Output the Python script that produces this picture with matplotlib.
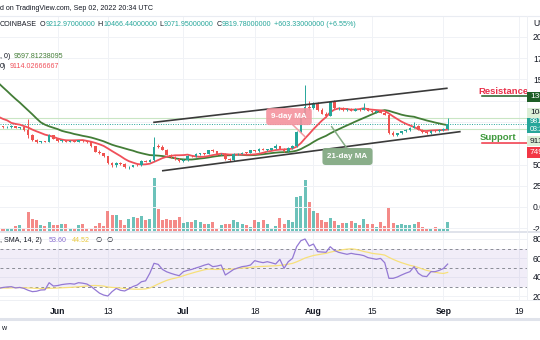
import numpy as np
import pandas as pd
import matplotlib
matplotlib.use('Agg')
import matplotlib.pyplot as plt
from matplotlib import font_manager
from matplotlib.patches import Rectangle
from matplotlib.lines import Line2D

# ---------------- data ----------------
dates = pd.date_range('2022-05-18', '2022-09-02', freq='D')
opens = [9200, 9480, 9380, 9450, 9520, 9300, 9400, 9050, 8450, 7900,
         7650, 7700, 7650, 8450, 8050, 7750, 7820, 7700, 7800, 7700,
         7850, 7750, 7600, 7150, 6500, 6350, 5950, 5150, 4900, 5200,
         5100, 4650, 4750, 4950, 4900, 5400, 5350, 5550, 7100, 7050,
         6700, 6150, 5850, 5600, 5450, 5500, 6050, 5950, 6250, 6300,
         6250, 6650, 6550, 6200, 6250, 5600, 5500, 6200, 6250, 6400,
         6350, 6650, 6550, 6850, 6700, 6750, 6900, 7150, 6850, 6550,
         6950, 7150, 8850, 10450, 11800, 11650, 12150, 11400, 11000, 10700,
         12350, 11600, 11700, 11400, 11550, 11350, 11550, 11450, 11600, 11300,
         11150, 11300, 11100, 10850, 8700, 8450, 8650, 8900, 9100, 9350,
         9500, 9100, 8800, 8650, 8950, 8900, 9050, 9212.97]
highs = [9550, 9520, 9500, 9600, 9560, 9450, 9450, 10350, 8600, 7950,
         7800, 7780, 8550, 8500, 8150, 7900, 7900, 7850, 7850, 7900,
         7900, 7800, 7650, 7200, 6700, 6400, 6050, 5250, 5300, 5350,
         5150, 4800, 5000, 5050, 5500, 5500, 5650, 8200, 7400, 7250,
         6800, 6250, 5950, 5750, 5600, 6150, 6150, 6350, 6400, 6400,
         6750, 6800, 6600, 6350, 6300, 5750, 6300, 6350, 6500, 6450,
         6750, 6750, 6950, 6900, 6850, 7000, 7400, 7200, 6950, 7050,
         7300, 9000, 10700, 14350, 12500, 12300, 12300, 11600, 11150, 12500,
         12550, 11800, 11800, 11650, 11650, 11650, 11700, 12200, 11700, 11450,
         11400, 11400, 11250, 10950, 8900, 8750, 8950, 9200, 9450, 10050,
         9600, 9150, 8900, 9050, 9050, 9150, 9300, 10466.44]
lows = [9100, 9300, 9300, 9350, 9250, 9200, 9000, 8100, 7800, 7550,
        7550, 7600, 7600, 8000, 7700, 7650, 7650, 7600, 7650, 7650,
        7700, 7550, 7050, 6450, 6250, 5850, 5050, 4750, 4700, 4950,
        4550, 4450, 4650, 4800, 4850, 5250, 5300, 5450, 6950, 6650,
        6100, 5800, 5550, 5350, 5350, 5450, 5900, 5900, 6150, 6150,
        6200, 6500, 6150, 6100, 5500, 5450, 5450, 6100, 6200, 6250,
        6300, 6450, 6500, 6650, 6600, 6650, 6800, 6800, 6500, 6500,
        6850, 7050, 8700, 10300, 11400, 11500, 11300, 10900, 10600, 10650,
        11500, 11400, 11350, 11300, 11300, 11250, 11350, 11400, 11250, 11100,
        11050, 11050, 10800, 8600, 8350, 8400, 8550, 8800, 9000, 9250,
        9050, 8750, 8550, 8600, 8800, 8850, 8950, 9071.95]
closes = [9480, 9380, 9450, 9520, 9300, 9400, 9050, 8450, 7900, 7650,
          7700, 7650, 8450, 8050, 7750, 7820, 7700, 7800, 7700, 7850,
          7750, 7600, 7150, 6500, 6350, 5950, 5150, 4900, 5200, 5100,
          4650, 4750, 4950, 4900, 5400, 5350, 5550, 7100, 7050, 6700,
          6150, 5850, 5600, 5450, 5500, 6050, 5950, 6250, 6300, 6250,
          6650, 6550, 6200, 6250, 5600, 5500, 6200, 6250, 6400, 6350,
          6650, 6550, 6850, 6700, 6750, 6900, 7150, 6850, 6550, 6950,
          7150, 8850, 10450, 11800, 11650, 12150, 11400, 11000, 10700, 12350,
          11600, 11700, 11400, 11550, 11350, 11550, 11450, 11600, 11300, 11150,
          11300, 11100, 10850, 8700, 8450, 8650, 8900, 9100, 9350, 9500,
          9100, 8800, 8650, 8950, 8900, 9050, 9212.97, 9819.78]
# closes of the 20 days before the first visible candle (feed the moving averages)
closes_before = [19200, 18900, 19400, 18700, 18300, 18800, 18100, 17600, 17900, 17200,
                 13400, 12600, 11500, 11000, 12200, 10400, 10100, 10600, 9900, 10200]
volumes = [14, 12, 13, 12, 17, 20, 12, 58, 38, 35, 20,
           18, 28, 20, 20, 23, 22, 12, 12, 20, 23,
           12, 10, 18, 27, 17, 62, 48, 50, 34, 20,
           37, 45, 40, 47, 35, 37, 158, 68, 35, 38,
           34, 34, 43, 27, 28, 28, 35, 30, 23, 24,
           28, 12, 20, 23, 23, 35, 30, 22, 20, 15,
           34, 30, 35, 22, 13, 18, 40, 23, 35, 28,
           102, 105, 152, 87, 62, 55, 35, 30, 42, 32,
           20, 25, 25, 32, 25, 20, 38, 23, 23, 15,
           30, 18, 70, 27, 20, 22, 20, 19, 23, 30,
           15, 10, 8, 15, 10, 10, 30]
rsi = [28, 29, 29.5, 29.8, 28.5, 29, 28, 26, 24.6, 25,
       26.3, 26.5, 34, 30.5, 31, 32, 32.6, 33, 32.5, 34,
       33.5, 32.6, 30, 26.5, 23, 21, 20, 24.6, 28, 26,
       25.3, 27.5, 30, 31.6, 35, 36, 44, 54.4, 53.3, 48,
       45.5, 43.9, 42.5, 41.4, 45.6, 47, 48, 49.5, 50.9, 52.5,
       53.7, 50.9, 51.5, 52.6, 42.1, 45, 48, 49.5, 50.9, 51.5,
       52.6, 57.2, 56, 55.1, 56.1, 55, 53.7, 58.6, 49.1, 56.1,
       59.6, 71.9, 78.2, 80, 72.6, 74.7, 66.7, 66.3, 66, 71.9,
       68, 66, 64.9, 63.9, 64.9, 64, 63.5, 62.5, 60.4, 59.5,
       58.6, 59.6, 55, 38.6, 38.6, 40, 42.1, 44, 45.6, 50.9,
       43.9, 41, 40.4, 45.6, 45.6, 47, 49, 53.6]
rsi_before = [32, 30, 27, 25, 28, 31, 29, 27, 30, 28, 27, 29, 30]

price_ticks = [20000, 17500, 15000, 12500, 10000, 7500, 5000, 2500, 0, -2500]
price_ticks_hidden = [12500, 10000, 7500]   # covered by the price badges
rsi_ticks = [80, 60, 40, 20]
time_ticks = ['2022-06-01', '2022-06-13', '2022-07-01', '2022-07-18',
              '2022-08-01', '2022-08-15', '2022-09-01', '2022-09-19']
time_labels = ['Jun', '13', 'Jul', '18', 'Aug', '15', 'Sep', '19']
time_bold = [True, False, True, False, True, False, True, False]

# drawn trend channel (day offset, price)
upper_line = [(37.0, 9965), (106.8, 13965)]
lower_line = [(39.1, 4270), (109.9, 8860)]
resistance = 13060
support = 7490
day_high = 10466.44
day_low_line = 9150
# price-scale badges (label lines, pixel-top, pixel-bottom, face, text colour)
badges = [(['13058.82'], 91.5, 102.0, '#1e5f26', 'white'),
          (['10466.44'], 108.0, 118.0, '#dcefd7', '#131722'),
          (['9819.78', '03:25:41'], 118.0, 133.5, '#26a69a', 'white'),
          (['9114.03'], 136.0, 146.0, '#dcefd7', '#131722'),
          (['7490.00'], 147.0, 157.5, '#f23645', 'white')]

# ---------------- style ----------------
names = {f.name for f in font_manager.fontManager.ttflist}
FONT = 'Liberation Sans Narrow' if 'Liberation Sans Narrow' in names else 'Liberation Sans'
plt.rcParams['font.family'] = [FONT, 'DejaVu Sans']

TEAL = '#26a69a'
RED = '#ef5350'
MA21C = '#437d37'
MA9C = '#f0505a'
DARK = '#131722'
GRID = '#f0f2f6'

W, H = 540, 340
PX0, PXD = -1.2, 4.195
PY0, PYK = 207.0, 0.0085
PLOT_R = 527.0


def fx(px):
    return px / W


def fy(py):
    return 1 - py / H


def idx_of_px(px):
    return (px - PX0) / PXD


def price_of_py(py):
    return (PY0 - py) / PYK


def rsi_of_py(py):
    return 80 - (py - 239) / 0.95


fig = plt.figure(figsize=(5.4, 3.4), dpi=100)
fig.patch.set_facecolor('white')
renderer = fig.canvas.get_renderer()

n = len(dates)
x = np.arange(n)
o = np.array(opens, float)
h = np.array(highs, float)
l = np.array(lows, float)
c = np.array(closes, float)
up = c >= o
cols = np.where(up, TEAL, RED)

rect_price = [0, fy(232), fx(PLOT_R), (232 - 16) / H]
axv = fig.add_axes(rect_price)
ax = fig.add_axes(rect_price, sharex=axv)
ax.patch.set_alpha(0)
xl = (idx_of_px(0), idx_of_px(PLOT_R))
ax.set_xlim(*xl)
ax.set_ylim(price_of_py(232), price_of_py(16))
axv.set_ylim(0, 216 * 2.904)

for a in (ax, axv):
    for s in a.spines.values():
        s.set_visible(False)
    a.tick_params(length=0, labelbottom=False, labeltop=False)
axv.set_yticks([])

tick_idx = [(pd.Timestamp(t) - dates[0]).days for t in time_ticks]
# grid
for p in price_ticks:
    ax.axhline(p, color=GRID, lw=0.7, zorder=0)
for t in tick_idx:
    axv.axvline(t, color=GRID, lw=0.7, zorder=0)

# volume
vcols = [(0.149, 0.651, 0.604, 0.68) if u else (0.937, 0.325, 0.314, 0.68) for u in up]
axv.bar(x, volumes, width=0.72, color=vcols, lw=0, zorder=1)

# high / low / last lines
ax.axhline(day_high, color='#c9e6c4', lw=0.8, zorder=1)
ax.axhline(day_low_line, color='#c9e6c4', lw=0.8, zorder=1)
ax.axhline(c[-1], color=TEAL, lw=0.7, ls=(0, (1, 1.5)), zorder=1)

# moving averages
full = pd.Series(closes_before + list(closes), dtype=float)
ma9 = full.rolling(9).mean().iloc[len(closes_before):].to_numpy()
ma21 = full.rolling(21).mean().iloc[len(closes_before):].to_numpy()
ax.plot(x, ma21, color=MA21C, lw=1.3, zorder=3, solid_capstyle='round')
ax.plot(x, ma9, color=MA9C, lw=1.3, zorder=3, solid_capstyle='round')

# candles
ax.vlines(x, l, h, colors=cols, lw=0.7, zorder=4)
body = np.maximum(np.abs(c - o), 90)
ax.bar(x, body, bottom=np.minimum(o, c), width=0.62, color=cols, lw=0, zorder=4)

# trend channel
for seg in (upper_line, lower_line):
    ax.plot([seg[0][0], seg[1][0]], [seg[0][1], seg[1][1]], color='#3a3a3a', lw=1.2, zorder=5)

# support / resistance
sx0 = idx_of_px(482)
ax.plot([sx0, xl[1]], [resistance, resistance], color='#1e5f26', lw=1.1, zorder=5, clip_on=False)
ax.plot([sx0, xl[1]], [support, support], color='#f23645', lw=1.1, zorder=5, clip_on=False)
ax.text(idx_of_px(503), price_of_py(91), 'Resistance', color='#e8304a', fontsize=6.8,
        fontweight='bold', ha='center', va='center', zorder=6)
ax.text(idx_of_px(498), price_of_py(137.5), 'Support', color='#3f9a3d', fontsize=6.8,
        fontweight='bold', ha='center', va='center', zorder=6)

# MA callouts
ax.plot([idx_of_px(293), idx_of_px(305)], [price_of_py(125), price_of_py(136.7)],
        color='#f39aa3', lw=1.1, zorder=6)
ax.text(idx_of_px(289), price_of_py(116.6), '9-day MA', color='white', fontsize=5.8,
        fontweight='bold', ha='center', va='center', zorder=7,
        bbox=dict(boxstyle='round,pad=0.62,rounding_size=0.4', fc='#f4939e', ec='none', alpha=0.9))
ax.plot([idx_of_px(331.7), idx_of_px(346.7)], [price_of_py(126.7), price_of_py(148)],
        color='#86ad86', lw=1.1, zorder=6)
ax.text(idx_of_px(347.5), price_of_py(156.5), '21-day MA', color='white', fontsize=5.8,
        fontweight='bold', ha='center', va='center', zorder=7,
        bbox=dict(boxstyle='round,pad=0.62,rounding_size=0.4', fc='#84aa84', ec='none', alpha=0.95))

# price scale labels (those under the badges are not visible in the reference)
shown_ticks = [p for p in price_ticks if p not in price_ticks_hidden]
ax.yaxis.tick_right()
ax.set_yticks(shown_ticks)
ax.set_yticklabels(['%.2f' % p for p in shown_ticks])
ax.tick_params(axis='y', length=0, pad=4.3, labelsize=6.2, labelcolor=DARK)

# ---------------- RSI pane ----------------
rax = fig.add_axes([0, fy(300), fx(PLOT_R), (300 - 232) / H], sharex=axv)
rax.set_ylim(rsi_of_py(300), rsi_of_py(232))
for s in rax.spines.values():
    s.set_visible(False)
for t in tick_idx:
    rax.axvline(t, color=GRID, lw=0.7, zorder=0)
for v in rsi_ticks:
    rax.axhline(v, color=GRID, lw=0.7, zorder=0)
rax.axhspan(30, 70, color='#7e57c2', alpha=0.1, lw=0, zorder=0.5)
for v in (70, 50, 30):
    rax.axhline(v, color='#8a8d96', lw=0.7, ls=(0, (3, 3)), zorder=1)
rsi_full = pd.Series(rsi_before + rsi, dtype=float)
rsi_ma = rsi_full.rolling(14).mean().iloc[len(rsi_before):].to_numpy()
rax.plot(x, rsi_ma, color='#f7e07a', lw=0.9, zorder=2)
rax.plot(x, rsi, color='#9479d4', lw=0.9, zorder=3)
rax.yaxis.tick_right()
rax.set_yticks(rsi_ticks)
rax.set_yticklabels(['%.2f' % v for v in rsi_ticks])
rax.tick_params(axis='y', length=0, pad=4.3, labelsize=6.2, labelcolor=DARK)
rax.set_xticks(tick_idx)
rax.set_xticklabels(time_labels)
rax.tick_params(axis='x', length=0, pad=5.0, labelsize=6.2, labelcolor=DARK, labelbottom=True)
for lab, b in zip(rax.get_xticklabels(), time_bold):
    if b:
        lab.set_fontweight('bold')
rax.set_xlim(*xl)

# ---------------- separators ----------------
for py, lw, col in ((16, 0.8, '#e9ecf2'), (232, 1.4, '#e0e3eb'), (300, 0.7, '#eef0f4'), (318.5, 2.2, '#e0e3eb')):
    fig.add_artist(Line2D([0, 1], [fy(py), fy(py)], transform=fig.transFigure, color=col, lw=lw, zorder=3))
fig.add_artist(Line2D([fx(PLOT_R), fx(PLOT_R)], [fy(300), fy(16)], transform=fig.transFigure,
                      color='#eef0f4', lw=0.7, zorder=3))

# ---------------- price scale badges ----------------
for lines, top, bot, fc, tc in badges:
    fig.add_artist(Rectangle((fx(PLOT_R), fy(bot)), fx(20), (bot - top) / H,
                             transform=fig.transFigure, fc=fc, ec='none', zorder=6))
    m = len(lines)
    for k, txt in enumerate(lines):
        yy = top + (bot - top) * (k + 0.5) / m
        fig.text(fx(530), fy(yy), txt, color=tc, fontsize=6.0 if m == 1 else 5.2,
                 ha='left', va='center', zorder=7)

fig.text(fx(533), fy(24), 'USD', color=DARK, fontsize=6.2, ha='left', va='center')

# ---------------- header / legends ----------------
fs = 5.1


def flow(py, parts, x0=0.0):
    xc = x0
    for txt, col, gap in parts:
        kw = {}
        if txt == '\u2205':
            kw['family'] = ['DejaVu Sans']
        t = fig.text(fx(xc), fy(py), txt, color=col, fontsize=fs, ha='left', va='center', **kw)
        xc += t.get_window_extent(renderer).width + gap
    return xc


fig.text(fx(0), fy(8), 'd on TradingView.com, Sep 02, 2022 20:34 UTC', color=DARK,
         fontsize=fs, ha='left', va='center')
flow(25, [('COINBASE', DARK, 2.5), ('O', DARK, 0.2), ('9212.97000000', TEAL, 2.5),
          ('H', DARK, 0.2), ('10466.44000000', TEAL, 2.5), ('L', DARK, 0.2),
          ('9071.95000000', TEAL, 2.5), ('C', DARK, 0.2), ('9819.78000000', TEAL, 2.5),
          ('+603.33000000 (+6.55%)', TEAL, 0)])
flow(56, [(', 0)', DARK, 3.0), ('9597.81238095', MA21C, 0)])
flow(66, [('0)', DARK, 3.5), ('9114.02666667', MA9C, 0)])
flow(240, [(', SMA, 14, 2)', DARK, 6.5), ('53.60', '#8a6fd0', 5.0), ('44.52', '#e8c93e', 6.0),
           ('\u2205', DARK, 5.0), ('\u2205', DARK, 0)])
fig.text(fx(1), fy(329), 'w', color=DARK, fontsize=fs, ha='left', va='center')

fig.savefig('out.png', dpi=100, facecolor='white')
